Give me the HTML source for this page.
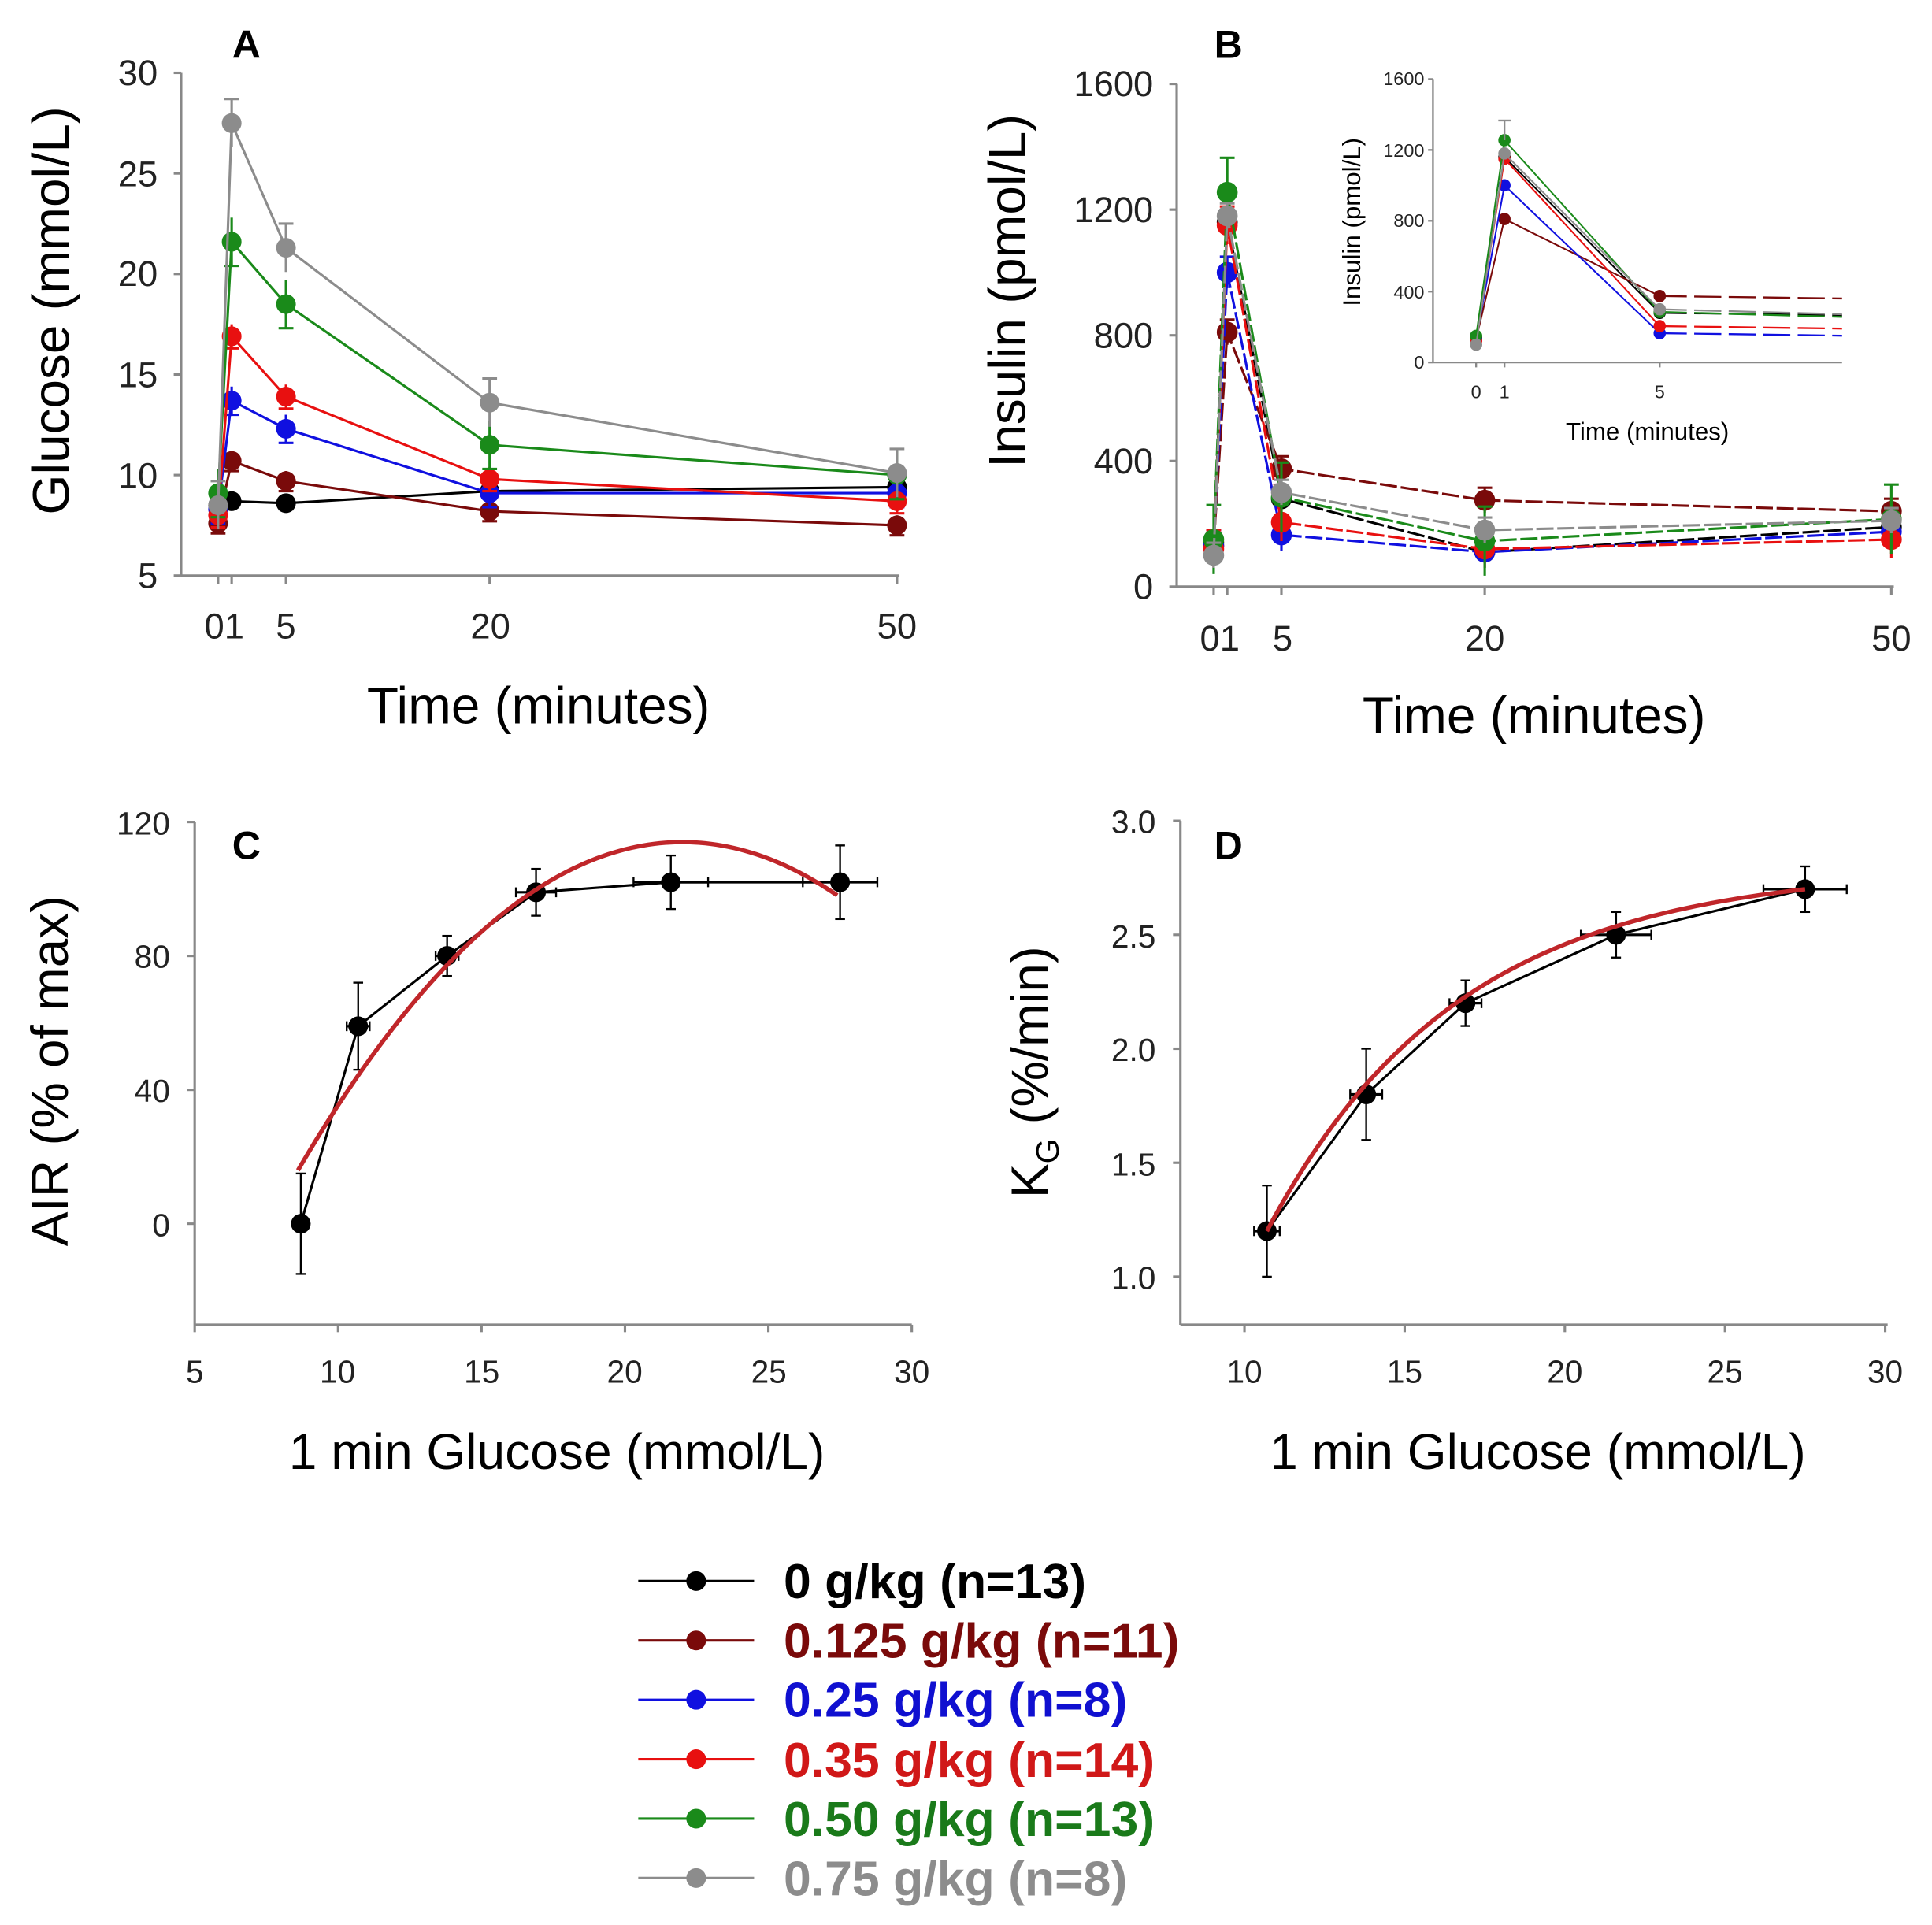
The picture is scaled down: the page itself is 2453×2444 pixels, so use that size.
<!DOCTYPE html>
<html><head><meta charset="utf-8"><style>
html,body{margin:0;padding:0;background:#fff}
svg{display:block}
text{font-family:"Liberation Sans",sans-serif}
</style></head><body>
<svg id="s" width="2453" height="2444" viewBox="0 0 1568 1562" xmlns="http://www.w3.org/2000/svg">
<rect width="1568" height="1562" fill="#fff"/>
<g id="g"></g>
<!-- Panel A text -->
<text x="200" y="47" font-size="32" font-weight="bold" text-anchor="middle">A</text>
<g font-size="29" text-anchor="end" fill="#222">
<text x="128" y="69">30</text><text x="128" y="151">25</text><text x="128" y="232">20</text><text x="128" y="314">15</text><text x="128" y="396">10</text><text x="128" y="477">5</text>
</g>
<g font-size="29" text-anchor="middle" fill="#222">
<text x="182" y="518">01</text><text x="232" y="518">5</text><text x="398" y="518">20</text><text x="728" y="518">50</text>
</g>
<text x="437" y="587" font-size="42" text-anchor="middle">Time (minutes)</text>
<text transform="translate(56,252) rotate(-90)" font-size="42" text-anchor="middle">Glucose (mmol/L)</text>
<!-- Panel B text -->
<text x="997" y="47" font-size="32" font-weight="bold" text-anchor="middle">B</text>
<g font-size="29" text-anchor="end" fill="#222">
<text x="936" y="78">1600</text><text x="936" y="180">1200</text><text x="936" y="282">800</text><text x="936" y="384">400</text><text x="936" y="486">0</text>
</g>
<g font-size="29" text-anchor="middle" fill="#222">
<text x="990" y="528">01</text><text x="1041" y="528">5</text><text x="1205" y="528">20</text><text x="1535" y="528">50</text>
</g>
<text x="1245" y="595" font-size="42" text-anchor="middle">Time (minutes)</text>
<text transform="translate(832,236) rotate(-90)" font-size="42" text-anchor="middle">Insulin (pmol/L)</text>
<!-- inset text -->
<g font-size="15" text-anchor="end" fill="#222">
<text x="1156" y="69">1600</text><text x="1156" y="127">1200</text><text x="1156" y="184">800</text><text x="1156" y="242">400</text><text x="1156" y="299">0</text>
</g>
<g font-size="15" text-anchor="middle" fill="#222">
<text x="1198" y="323">0</text><text x="1221" y="323">1</text><text x="1347" y="323">5</text>
</g>
<text x="1337" y="357" font-size="20" text-anchor="middle">Time (minutes)</text>
<text transform="translate(1104,180) rotate(-90)" font-size="20" text-anchor="middle">Insulin (pmol/L)</text>
<!-- Panel C text -->
<text x="200" y="697" font-size="32" font-weight="bold" text-anchor="middle">C</text>
<g font-size="26" text-anchor="end" fill="#222">
<text x="138" y="677">120</text><text x="138" y="785">80</text><text x="138" y="894">40</text><text x="138" y="1003">0</text>
</g>
<g font-size="26" text-anchor="middle" fill="#222">
<text x="158" y="1122">5</text><text x="274" y="1122">10</text><text x="391" y="1122">15</text><text x="507" y="1122">20</text><text x="624" y="1122">25</text><text x="740" y="1122">30</text>
</g>
<text x="452" y="1192" font-size="41" text-anchor="middle">1 min Glucose (mmol/L)</text>
<text transform="translate(55,869) rotate(-90)" font-size="42" text-anchor="middle">AIR (% of max)</text>
<!-- Panel D text -->
<text x="997" y="697" font-size="32" font-weight="bold" text-anchor="middle">D</text>
<g font-size="26" text-anchor="end" fill="#222">
<text x="938" y="676">3.0</text><text x="938" y="769">2.5</text><text x="938" y="861">2.0</text><text x="938" y="954">1.5</text><text x="938" y="1046">1.0</text>
</g>
<g font-size="26" text-anchor="middle" fill="#222">
<text x="1010" y="1122">10</text><text x="1140" y="1122">15</text><text x="1270" y="1122">20</text><text x="1400" y="1122">25</text><text x="1530" y="1122">30</text>
</g>
<text x="1248" y="1192" font-size="41" text-anchor="middle">1 min Glucose (mmol/L)</text>
<text transform="translate(850,870) rotate(-90)" font-size="42" text-anchor="middle">K<tspan font-size="26" dy="9">G</tspan><tspan dy="-9"> (%/min)</tspan></text>
<!-- legend -->
<g font-size="40" font-weight="bold">
<text x="636" y="1297" fill="#000">0 g/kg (n=13)</text>
<text x="636" y="1345" fill="#7a0a0a">0.125 g/kg (n=11)</text>
<text x="636" y="1393" fill="#1010d0">0.25 g/kg (n=8)</text>
<text x="636" y="1442" fill="#d01818">0.35 g/kg (n=14)</text>
<text x="636" y="1490" fill="#1a7a1a">0.50 g/kg (n=13)</text>
<text x="636" y="1538" fill="#8c8c8c">0.75 g/kg (n=8)</text>
</g>
</svg>
<script>
var g=document.getElementById('g'),NS='http://www.w3.org/2000/svg';
function el(t,a){var e=document.createElementNS(NS,t);for(var k in a)e.setAttribute(k,a[k]);g.appendChild(e);return e;}
function line(x1,y1,x2,y2,c,w,d){var o={x1:x1,y1:y1,x2:x2,y2:y2,stroke:c,'stroke-width':w||2};if(d)o['stroke-dasharray']=d;el('line',o);}
function pl(pts,c,w,d){var o={points:pts.map(function(p){return p.join(',')}).join(' '),fill:'none',stroke:c,'stroke-width':w||2};if(d)o['stroke-dasharray']=d;el('polyline',o);}
function dot(x,y,r,c){el('circle',{cx:x,cy:y,r:r,fill:c});}
var C=['#000','#7a0a0a','#1010e0','#e81010','#1a8a1a','#8c8c8c'];
var AX='#888';
// Panel A
line(147,59,147,467,AX,2);line(147,467,730,467,AX,2);
[30,25,20,15,10,5].forEach(function(v){var y=467-(v-5)*16.32;line(141,y,147,y,AX,2);});
var tx=function(t){return 177+t*11.02};
[0,1,5,20,50].forEach(function(t){line(tx(t),467,tx(t),474,AX,2);});
var T=[0,1,5,20,50];
var A=[[8.5,8.7,8.6,9.2,9.4],[7.6,10.7,9.7,8.2,7.5],[8.3,13.7,12.3,9.1,9.1],[8.0,16.9,13.9,9.8,8.7],[9.1,21.6,18.5,11.5,10.0],[8.5,27.5,21.3,13.6,10.1]];
var AE=[0.3,0.5,0.7,0.6,1.2,1.2];
A.forEach(function(s,i){var p=s.map(function(v,j){return [tx(T[j]),467-(v-5)*16.32]});
 pl(p,C[i],2);
 p.forEach(function(q,j){var e=AE[i]*16.32; line(q[0],q[1]-e,q[0],q[1]+e,C[i],2); line(q[0]-6,q[1]+(i==5?-e:e),q[0]+6,q[1]+(i==5?-e:e),C[i],2); dot(q[0],q[1],8,C[i]);});});
// Panel B
line(955,68,955,476,AX,2);line(955,476,1537,476,AX,2);
[0,400,800,1200,1600].forEach(function(v){var y=476-v*0.255;line(949,y,955,y,AX,2);});
var bx=function(t){return 985+t*11};
[0,1,5,20,50].forEach(function(t){line(bx(t),476,bx(t),483,AX,2);});
var B=[[140,1160,280,110,190],[130,810,375,275,240],[130,1000,165,110,175],[120,1150,205,120,150],[150,1255,285,145,215],[100,1180,300,180,210]];
var BE=[30,40,50,60,110,40];
B.forEach(function(s,i){var p=s.map(function(v,j){return [bx(T[j]),476-v*0.255]});
 pl(p,C[i],2,'14,3');
 p.forEach(function(q,j){var e=BE[i]*0.255; line(q[0],q[1]-e,q[0],q[1]+e,C[i],2); line(q[0]-6,q[1]-e,q[0]+6,q[1]-e,C[i],2); dot(q[0],q[1],8.5,C[i]);});});
// inset
line(1163,64,1163,294,AX,1.5);line(1163,294,1495,294,AX,1.5);
[0,400,800,1200,1600].forEach(function(v){var y=294-v*0.1437;line(1159,y,1163,y,AX,1.5);});
var ix=function(t){return t==0?1198:(t==1?1221:1347)};
[0,1,5].forEach(function(t){line(ix(t),294,ix(t),298,AX,1.5);});
B.forEach(function(s,i){var p=[0,1,2].map(function(j){return [ix(T[j]),294-s[j]*0.1437]});
 pl(p,C[i],1.3);
 var y5=p[2][1];line(p[2][0],y5,1495,y5+(i==4||i==5?4:2),C[i],1.5,'22,6');
 p.forEach(function(q){dot(q[0],q[1],5,C[i]);});});
line(1221,294-1255*0.1437-16,1221,294-1255*0.1437,C[5],1.5);line(1216,294-1255*0.1437-16,1226,294-1255*0.1437-16,C[5],1.5);
// Panel C
line(158,667,158,1075,AX,2);line(158,1075,740,1075,AX,2);
var cy=function(v){return 993-v*2.717}, cx=function(x){return 158+(x-5)*23.28};
[120,80,40,0].forEach(function(v){line(152,cy(v),158,cy(v),AX,2);});
[5,10,15,20,25,30].forEach(function(v){line(cx(v),1075,cx(v),1081,AX,2);});
var cp=[[8.7,0,0.2,15],[10.7,59,0.4,13],[13.8,80,0.4,6],[16.9,99,0.7,7],[21.6,102,1.3,8],[27.5,102,1.3,11]];
var cur=[];for(var x=8.6;x<=27.55;x+=0.2)cur.push([cx(x),cy(-0.546*(x-22)*(x-22)+114)]);
pl(cp.map(function(p){return [cx(p[0]),cy(p[1])]}),'#000',2);
cp.forEach(function(p){var X=cx(p[0]),Y=cy(p[1]);line(X,cy(p[1]-p[3]),X,cy(p[1]+p[3]),'#000',1.5);line(X-4,cy(p[1]-p[3]),X+4,cy(p[1]-p[3]),'#000',1.5);line(X-4,cy(p[1]+p[3]),X+4,cy(p[1]+p[3]),'#000',1.5);
 line(cx(p[0]-p[2]),Y,cx(p[0]+p[2]),Y,'#000',2);line(cx(p[0]-p[2]),Y-4,cx(p[0]-p[2]),Y+4,'#000',1.5);line(cx(p[0]+p[2]),Y-4,cx(p[0]+p[2]),Y+4,'#000',1.5);dot(X,Y,8,'#000');});
pl(cur,'#c0262a',3.5);
// Panel D
line(958,666,958,1075,AX,2);line(958,1075,1532,1075,AX,2);
var dy=function(v){return 1036-(v-1)*185}, dx=function(x){return 1010+(x-10)*26};
[1,1.5,2,2.5,3].forEach(function(v){line(952,dy(v),958,dy(v),AX,2);});
[10,15,20,25,30].forEach(function(v){line(dx(v),1075,dx(v),1081,AX,2);});
var dp=[[10.7,1.2,0.4,0.2],[13.8,1.8,0.5,0.2],[16.9,2.2,0.5,0.1],[21.6,2.5,1.1,0.1],[27.5,2.7,1.3,0.1]];
pl(dp.map(function(p){return [dx(p[0]),dy(p[1])]}),'#000',2);
dp.forEach(function(p){var X=dx(p[0]),Y=dy(p[1]);line(X,dy(p[1]-p[3]),X,dy(p[1]+p[3]),'#000',1.5);line(X-4,dy(p[1]-p[3]),X+4,dy(p[1]-p[3]),'#000',1.5);line(X-4,dy(p[1]+p[3]),X+4,dy(p[1]+p[3]),'#000',1.5);
 line(dx(p[0]-p[2]),Y,dx(p[0]+p[2]),Y,'#000',2);line(dx(p[0]-p[2]),Y-4,dx(p[0]-p[2]),Y+4,'#000',1.5);line(dx(p[0]+p[2]),Y-4,dx(p[0]+p[2]),Y+4,'#000',1.5);dot(X,Y,8,'#000');});
var dc=[];for(var x=10.7;x<=27.55;x+=0.2){dc.push([dx(x),dy(2.797-1.597*Math.exp(-(x-10.7)/6))]);}
pl(dc,'#c0262a',3.5);
// legend
for(var i=0;i<6;i++){var y=1283+i*48.2;line(518,y,612,y,C[i],2);dot(565,y,8,C[i]);}
</script>
</body></html>
